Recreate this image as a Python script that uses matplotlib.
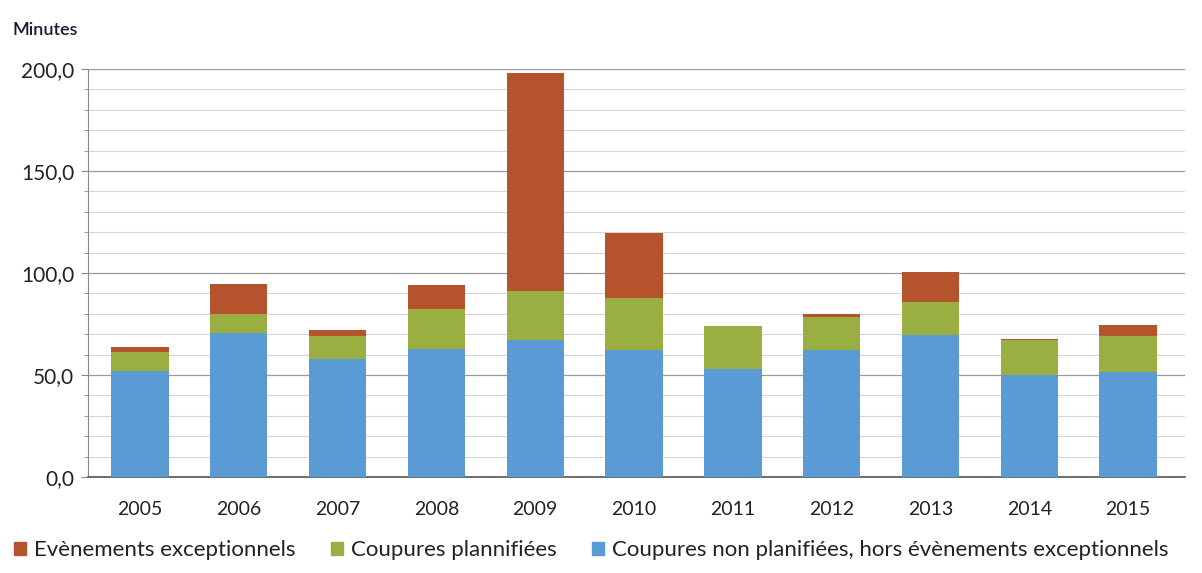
import matplotlib
matplotlib.use("Agg")
import matplotlib.pyplot as plt
from matplotlib.ticker import MultipleLocator, FuncFormatter
from matplotlib.patches import Patch
import numpy as np

years = ["2005", "2006", "2007", "2008", "2009", "2010", "2011", "2012", "2013", "2014", "2015"]
non_planifiees = [51.8, 70.5, 57.8, 62.7, 67.3, 62.4, 53.1, 62.4, 69.7, 50.1, 51.3]
planifiees = [9.3, 9.3, 11.1, 19.7, 24.0, 25.3, 20.7, 15.8, 16.0, 17.2, 17.6]
exceptionnels = [2.6, 14.9, 3.3, 11.5, 106.6, 31.8, 0.3, 1.8, 15.0, 0.3, 5.4]

labels = ["Evènements exceptionnels", "Coupures plannifiées",
          "Coupures non planifiées, hors évènements exceptionnels"]
c_red, c_green, c_blue = "#B5532C", "#9AAF42", "#5B9BD5"

plt.rcParams['font.family'] = ['Lato', 'DejaVu Sans']

fig = plt.figure(figsize=(12.02, 5.73), dpi=100)
ax = fig.add_axes([0.0732, 0.1675, 0.9128, 0.7121])

x = np.arange(len(years))
w = 0.58
b1 = np.array(non_planifiees)
b2 = b1 + np.array(planifiees)
ax.bar(x, non_planifiees, w, color=c_blue, zorder=3)
ax.bar(x, planifiees, w, bottom=b1, color=c_green, zorder=3)
ax.bar(x, exceptionnels, w, bottom=b2, color=c_red, zorder=3)

ax.set_xlim(-0.526, 10.577)
ax.set_ylim(0, 200)
ax.yaxis.set_major_locator(MultipleLocator(50))
ax.yaxis.set_minor_locator(MultipleLocator(10))
ax.yaxis.set_major_formatter(FuncFormatter(lambda v, p: f"{v:.1f}".replace(".", ",")))
ax.grid(axis="y", which="major", color="#9a9a9a", linewidth=0.9, zorder=0)
ax.grid(axis="y", which="minor", color="#d6d6d6", linewidth=0.8, zorder=0)
ax.set_xticks(x)
ax.set_xticklabels(years)
for s in ["top", "right"]:
    ax.spines[s].set_visible(False)
ax.spines["left"].set_color("#888888")
ax.spines["bottom"].set_color("#555555")
ax.spines["bottom"].set_linewidth(1.2)
ax.tick_params(axis="y", which="major", length=5, color="#888888", labelsize=15,
               pad=5, labelcolor="#222222")
ax.tick_params(axis="y", which="minor", length=3, color="#888888")
ax.tick_params(axis="x", length=0, labelsize=14, pad=17, labelcolor="#222222")

fig.text(0.010, 0.947, "Minutes", fontsize=13, color="#1a1a33", va="center",
         fontweight="semibold")

handles = [Patch(color=c_red), Patch(color=c_green), Patch(color=c_blue)]
fig.legend(handles, labels, loc="center left", bbox_to_anchor=(0.004, 0.04), ncol=3,
           frameon=False, fontsize=16, handlelength=0.55, handleheight=0.55,
           handletextpad=0.35, columnspacing=1.6, borderaxespad=0,
           labelcolor="#222222")

fig.savefig("out.png", dpi=100, facecolor="white")
